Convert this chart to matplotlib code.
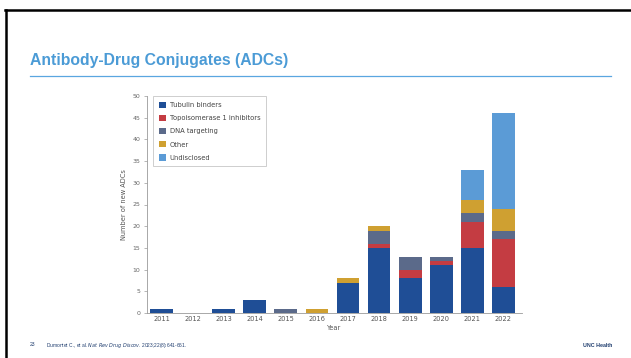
import matplotlib.pyplot as plt
import numpy as np
from matplotlib.lines import Line2D

# new ADCs per year, split by payload class
years = ['2011', '2012', '2013', '2014', '2015', '2016', '2017', '2018', '2019', '2020', '2021', '2022']
tubulin = [1, 0, 1, 3, 0, 0, 7, 15, 8, 11, 15, 6]
topo1 = [0, 0, 0, 0, 0, 0, 0, 1, 2, 1, 6, 11]
dna = [0, 0, 0, 0, 1, 0, 0, 3, 3, 1, 2, 2]
other = [0, 0, 0, 0, 0, 1, 1, 1, 0, 0, 3, 5]
undisclosed = [0, 0, 0, 0, 0, 0, 0, 0, 0, 0, 7, 22]

series = [
    ('Tubulin binders', tubulin, '#1f4e96'),
    ('Topoisomerase 1 inhibitors', topo1, '#c43c42'),
    ('DNA targeting', dna, '#5b6a8a'),
    ('Other', other, '#cfa031'),
    ('Undisclosed', undisclosed, '#5b9bd6'),
]

W, H = 631, 358
fig = plt.figure(figsize=(W / 100, H / 100), dpi=100)
fig.patch.set_facecolor('white')

# slide frame
fig.add_artist(Line2D([5 / W, 1], [1 - 9.5 / H, 1 - 9.5 / H], color='black', lw=1.8))
fig.add_artist(Line2D([6 / W, 6 / W], [0, 1 - 9.5 / H], color='black', lw=1.8))

# slide title and rule
fig.text(30 / W, 1 - 61 / H, 'Antibody-Drug Conjugates (ADCs)', color='#4b9bd6',
         fontsize=11.3, fontweight='bold', family='Liberation Sans', va='center')
fig.add_artist(Line2D([30 / W, 611 / W], [1 - 76.3 / H, 1 - 76.3 / H], color='#5aa6e0', lw=0.9))

# footer
fig.text(30 / W, 1 - 345 / H, '23', fontsize=3.6, color='#1f3d6e', family='Liberation Sans', va='center')
fig.text(46 / W, 1 - 345 / H, 'Dumontet C., et al. $\\it{Nat\\ Rev\\ Drug\\ Discov}$. 2023;22(8):641-661.',
         fontsize=3.5, color='#1f3d6e', family='Liberation Sans', va='center')
fig.text(612 / W, 1 - 345.5 / H, 'UNC Health', fontsize=3.8, color='#1f3d6e', fontweight='bold',
         family='Liberation Sans', va='center', ha='right')

ax = fig.add_axes([146.7 / W, (H - 313) / H, (521.7 - 146.7) / W, (313 - 96) / H])
x = np.arange(len(years))
bottom = np.zeros(len(years))
for name, vals, col in series:
    ax.bar(x, vals, width=0.74, bottom=bottom, color=col, label=name)
    bottom += np.array(vals)

ax.set_xlim(-0.49, 11.6)
ax.set_ylim(0, 50)
ax.set_yticks(range(0, 51, 5))
ax.set_xticks(x)
ax.set_xticklabels(years)
for s in ['top', 'right']:
    ax.spines[s].set_visible(False)
for s in ['left', 'bottom']:
    ax.spines[s].set_color('#9a9a9a')
    ax.spines[s].set_linewidth(0.6)
ax.tick_params(axis='y', length=2.5, width=0.5, color='#9a9a9a', labelsize=4.5,
               labelcolor='#666666', pad=2)
ax.tick_params(axis='x', length=0, labelsize=4.8, labelcolor='#555555', pad=2.5)
ax.set_xlabel('Year', fontsize=4.8, color='#555555', labelpad=2)
ax.set_ylabel('Number of new ADCs', fontsize=4.8, color='#555555', labelpad=4)

leg = ax.legend(loc='upper left', bbox_to_anchor=(0.017, 1.0), borderaxespad=0,
                fontsize=4.9, handlelength=1.1, handleheight=1.1, handletextpad=0.5,
                labelspacing=0.95, borderpad=0.85, frameon=True, fancybox=False)
leg.get_frame().set_edgecolor('#b8b8b8')
leg.get_frame().set_linewidth(0.6)
for t in leg.get_texts():
    t.set_color('#444444')

fig.savefig('out.png', dpi=100)
